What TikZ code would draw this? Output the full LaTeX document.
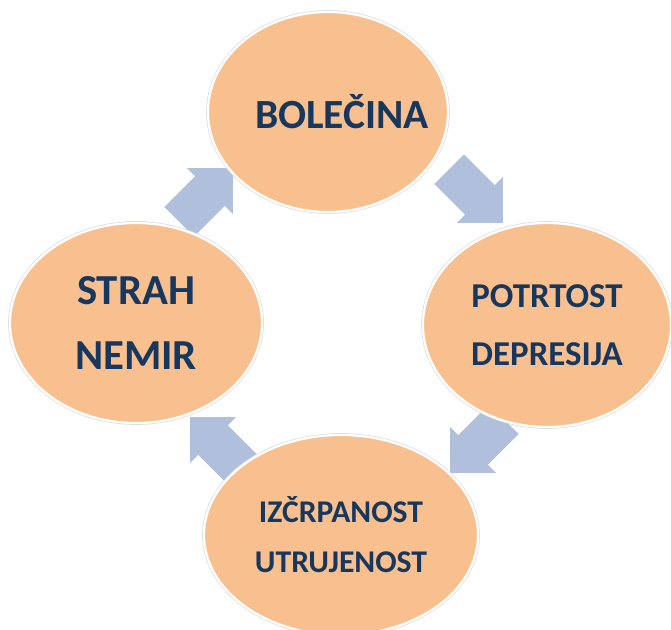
\documentclass[tikz,border=0pt]{standalone}
\usepackage{fontspec}
\setmainfont{Carlito}
\usetikzlibrary{shapes.geometric}
\definecolor{peach}{RGB}{249,192,143}
\definecolor{inknavy}{RGB}{23,55,94}
\definecolor{steelblue}{RGB}{176,192,220}

\begin{document}
\begin{tikzpicture}[x=0.025cm, y=-0.025cm,
  stage/.style={ellipse, fill=peach, draw=white, line width=1.6pt,
    preaction={draw=black!14, line width=2.6pt},
    text=inknavy, align=center, inner sep=0pt}]
  \useasboundingbox (0,0) rectangle (671,630);
  % Block arrows of the cycle (drawn first, the ellipses cover their tails)
  \foreach \cx/\cy/\ang in {206/195/45, 476/196/-45, 477/446/-135, 217/444/135} {
    \fill[steelblue, shift={(\cx,\cy)}, rotate=\ang]
      (-38,-21) -- (5.5,-21) -- (5.5,-32.5) -- (38,0) -- (5.5,32.5) -- (5.5,21) -- (-38,21) -- cycle;
  }
  % Stages
  \node[stage, minimum width=6cm, minimum height=5cm,
    font=\fontsize{29.5}{34}\selectfont\bfseries] (bolecina) at (328,112) {\makebox[0pt]{\hspace*{0.7cm}BOLEČINA}};
  \node[stage, minimum width=6.2cm, minimum height=5.1cm,
    font=\fontsize{24.8}{41}\selectfont\bfseries] (potrtost) at (547,325) {POTRTOST\\DEPRESIJA};
  \node[stage, minimum width=6.85cm, minimum height=5cm,
    font=\fontsize{22.5}{35.5}\selectfont\bfseries] (izcrpanost) at (341,535) {IZČRPANOST\\UTRUJENOST};
  \node[stage, minimum width=6.3cm, minimum height=5cm,
    font=\fontsize{30.4}{46}\selectfont\bfseries] (strah) at (136,323) {STRAH\\NEMIR};
\end{tikzpicture}
\end{document}
